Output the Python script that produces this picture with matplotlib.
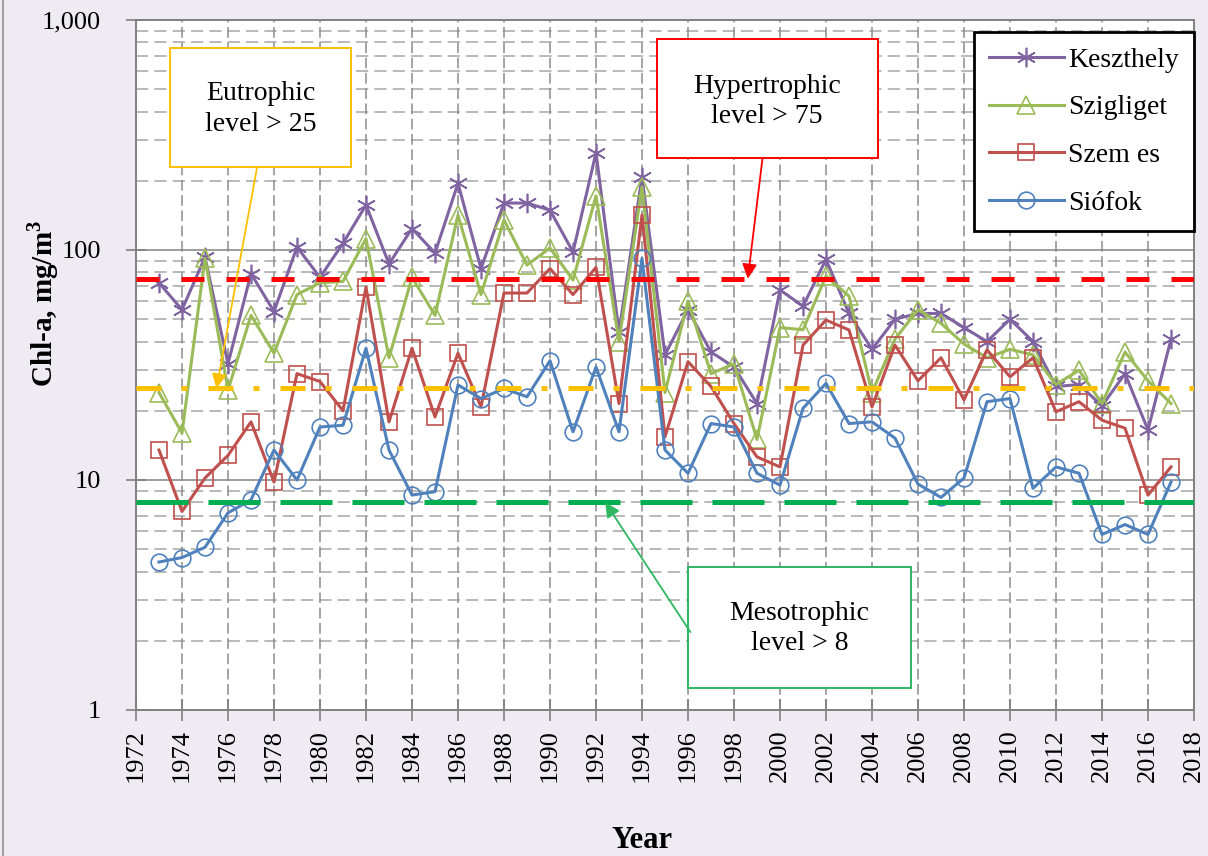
import matplotlib
matplotlib.use("Agg")
import matplotlib.pyplot as plt
from matplotlib.ticker import FixedLocator, FuncFormatter, NullLocator
from matplotlib.lines import Line2D
from matplotlib.patches import Rectangle
import numpy as np

plt.rcParams['font.family'] = ['Liberation Serif', 'DejaVu Serif']
plt.rcParams['mathtext.fontset'] = 'custom'
plt.rcParams['mathtext.rm'] = 'Liberation Serif'
plt.rcParams['mathtext.bf'] = 'Liberation Serif:bold'

years = list(range(1973, 2018))

keszthely = [72, 55, 93, 32, 79, 54, 103, 76, 107, 157, 87, 124, 97, 195, 83, 160, 160,
             149, 98, 265, 44, 208, 35, 55, 36, 31, 21.5, 67, 57, 91, 53, 37, 50, 53, 53,
             46, 40, 50, 40, 25.5, 26, 21, 29, 16.5, 41]
szigliget = [24, 16, 92, 24.6, 52, 35.6, 64, 72, 73, 112, 34, 76, 52, 142, 64, 135, 86,
             102, 74, 172, 40, 188, 24, 60, 29, 32, 15, 46, 45, 77, 63, 24, 41, 55, 48,
             39, 34, 37, 35, 26, 30, 21.5, 36, 27, 21.5]
szemes = [13.5, 7.3, 10.2, 12.8, 17.9, 9.8, 29, 26.8, 20, 69, 17.9, 37.4, 18.8, 35.6,
          20.8, 65, 65, 83, 64, 84, 21.5, 142, 15.4, 32.7, 25.5, 17.6, 12.6, 11.4, 38.6,
          49.6, 44.9, 20.8, 38.6, 27, 34, 22.3, 36.8, 28.1, 34, 19.8, 21.9, 18.2, 16.8,
          8.6, 11.4]
siofok = [4.4, 4.6, 5.1, 7.2, 8.2, 13.5, 10, 17, 17.3, 37.4, 13.5, 8.6, 8.9, 25.9, 22.6,
          25, 23, 33, 16.2, 31, 16.2, 92, 13.5, 10.7, 17.6, 17, 10.7, 9.5, 20.5, 26.3,
          17.6, 17.9, 15.2, 9.6, 8.4, 10.2, 21.9, 22.6, 9.2, 11.4, 10.7, 5.8, 6.4, 5.8, 9.8]

series_names = ["Keszthely", "Szigliget", "Szem es", "Siófok"]
series_values = [keszthely, szigliget, szemes, siofok]
series_colors = ["#8064A2", "#9BBB59", "#C0504D", "#4F81BD"]
series_markers = [(6, 2, 0), "^", "s", "o"]
series_msize = [14, 13, 11, 12]

thresholds = [75, 25, 8]
threshold_colors = ["#FF0000", "#FFC000", "#00B050"]
threshold_dashes = [(4.6, 4.4), (5.0, 4.0, 1.2, 4.2), (10.4, 4.0)]

annot_texts = ["Eutrophic\nlevel > 25", "Hypertrophic\nlevel > 75", "Mesotrophic\nlevel > 8"]
annot_tips = [(1975.5, 25), (1998.6, 75), (1992.4, 8)]

x_ticks = list(range(1972, 2019, 2))
y_ticks = [1, 10, 100, 1000]

W, H = 1208, 856
fig = plt.figure(figsize=(W / 100, H / 100), dpi=100)
fig.patch.set_facecolor("#EEEBF2")

L, R, T, B = 136, 1194, 20, 710
ax = fig.add_axes([L / W, (H - B) / H, (R - L) / W, (B - T) / H])
ax.set_facecolor("white")
ax.set_yscale("log")
ax.set_xlim(1972, 2018)
ax.set_ylim(1, 1000)

# grid
for dec in [1, 10, 100]:
    for m in range(2, 10):
        ax.axhline(dec * m, color="#A6A6A6", lw=1.1, dashes=(8, 4), zorder=0.5)
for d in [10, 100]:
    ax.axhline(d, color="#8C8C8C", lw=1.2, zorder=0.6)
for xt in x_ticks[1:-1]:
    ax.axvline(xt, color="#8C8C8C", lw=1.1, dashes=(7, 3), zorder=0.5)

for name, vals, col, mk, ms in zip(series_names, series_values, series_colors,
                                   series_markers, series_msize):
    ax.plot(years, vals, color=col, lw=2.2, marker=mk, markersize=ms,
            markerfacecolor="none", markeredgecolor=col, markeredgewidth=1.2,
            label=name, zorder=3)

for th, col, ds in zip(thresholds, threshold_colors, threshold_dashes):
    ax.axhline(th, color=col, lw=3.6, dashes=ds, zorder=4)

# ticks
ax.xaxis.set_major_locator(FixedLocator(x_ticks))
ax.set_xticklabels([str(x) for x in x_ticks], rotation=90, fontsize=19)
ax.yaxis.set_major_locator(FixedLocator(y_ticks))
ax.yaxis.set_minor_locator(NullLocator())
ax.yaxis.set_major_formatter(FuncFormatter(lambda v, p: f"{v:,.0f}"))
ax.tick_params(axis="y", direction="inout", length=14, width=1.2, color="#808080",
               labelsize=19, pad=18)
ax.tick_params(axis="x", direction="inout", length=16, width=1.2, color="#808080",
               pad=6)
for s in ax.spines.values():
    s.set_color("#808080")
    s.set_linewidth(1.4)

fig.text(43 / W, 1 - 303 / H, r"Chl-a, mg/m$^\mathbf{3}$", rotation=90, ha="center",
         va="center", fontsize=21, fontweight="bold")
fig.text(642 / W, 1 - 840 / H, "Year", ha="center", va="center", fontsize=22,
         fontweight="bold")

# annotation boxes
boxes = [(0.0322, 0.787, 0.1712, 0.1725), (0.492, 0.80, 0.209, 0.1725),
         (0.5222, 0.0319, 0.21, 0.175)]
box_colors = ["#FFC000", "#FF0000", "#2EB862"]
tails = [(0.1145, 0.787), (0.5922, 0.80), (0.524, 0.113)]
text_centers = [(0.1178, 0.871), (0.5965, 0.882), (0.627, 0.118)]
for txt, (bx, by, bw, bh), bc, tail, tip, tc in zip(annot_texts, boxes, box_colors,
                                                    tails, annot_tips, text_centers):
    ax.add_patch(Rectangle((bx, by), bw, bh, transform=ax.transAxes, facecolor="white",
                           edgecolor=bc, lw=1.4, zorder=6))
    ax.text(tc[0], tc[1], txt, transform=ax.transAxes, ha="center", va="center",
            fontsize=20, linespacing=1.3, zorder=7)
    ax.annotate("", xy=tip, xycoords="data", xytext=tail, textcoords="axes fraction",
                arrowprops=dict(arrowstyle="-|>", color=bc, lw=1.3, mutation_scale=22,
                                shrinkA=0, shrinkB=0), zorder=6)

leg = ax.legend(loc="upper right", bbox_to_anchor=(1.0, (B - 32) / (B - T)),
                fontsize=20, frameon=True, fancybox=False, edgecolor="black",
                framealpha=1, numpoints=1, handlelength=2.7, handletextpad=0.15,
                labelspacing=0.8, borderpad=0.55, borderaxespad=0)
leg.get_frame().set_linewidth(2)
leg.set_zorder(10)

fig.add_artist(Line2D([3 / W, 3 / W], [0, 1], color="#A0A0A0", lw=1.5))

fig.savefig("out.png", dpi=100, facecolor=fig.get_facecolor())
